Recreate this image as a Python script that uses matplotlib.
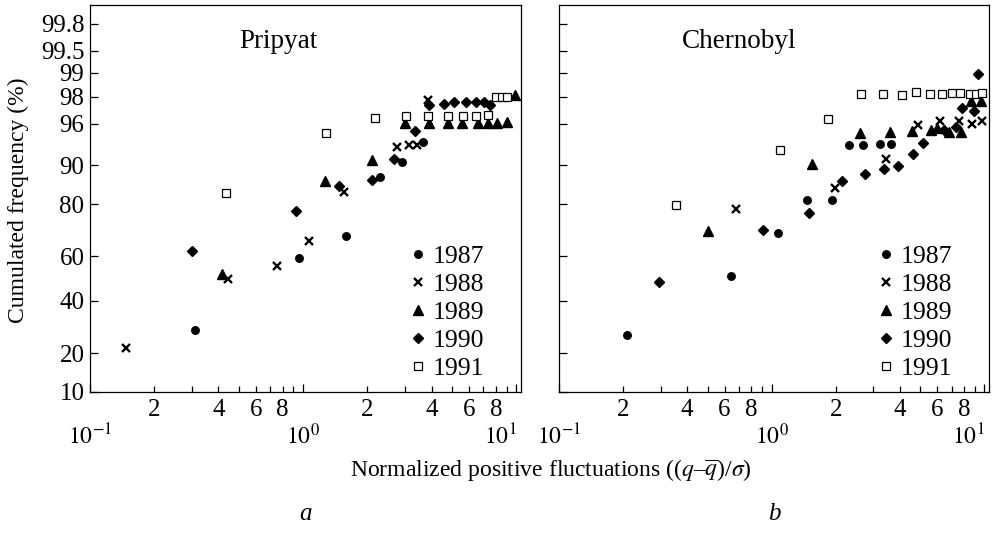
import math

import numpy as np
import matplotlib

matplotlib.use("Agg")
import matplotlib.pyplot as plt
from matplotlib.ticker import FixedLocator, FuncFormatter, LogLocator, NullLocator

# ---- data (x: normalized fluctuation, p: cumulated %) ----
YEARS = ["1987", "1988", "1989", "1990", "1991"]

PRIPYAT_1987_X = [0.31, 0.96, 1.58, 2.28, 2.91, 3.65]
PRIPYAT_1987_P = [27.9, 59.3, 68.3, 87.5, 90.6, 93.8]
PRIPYAT_1988_X = [0.148, 0.445, 0.75, 1.06, 1.56, 2.75, 3.14, 3.40, 3.86]
PRIPYAT_1988_P = [21.7, 49.6, 55.7, 66.4, 83.6, 93.1, 93.4, 93.4, 97.8]
PRIPYAT_1989_X = [0.416, 1.27, 2.11, 3.0, 3.9, 4.75, 5.55, 6.57, 7.32, 8.11, 9.04, 9.79]
PRIPYAT_1989_P = [51.9, 86.5, 90.9, 96.1, 96.1, 96.1, 96.1, 96.1, 96.1, 96.1, 96.15, 98.1]
PRIPYAT_1990_X = [0.30, 0.92, 1.47, 2.09, 2.67, 3.34, 3.90, 4.59, 5.12, 5.79, 6.45, 7.01, 7.54]
PRIPYAT_1990_P = [62.2, 77.8, 85.2, 86.7, 91.1, 95.2, 97.5, 97.6, 97.7, 97.7, 97.7, 97.7, 97.5]
PRIPYAT_1991_X = [0.432, 1.28, 2.18, 3.02, 3.83, 4.75, 5.6, 6.48, 7.32, 8.02, 8.57, 9.04]
PRIPYAT_1991_P = [83.2, 95.0, 96.55, 96.7, 96.7, 96.7, 96.7, 96.66, 96.8, 97.96, 97.96, 97.96]

CHERNOBYL_1987_X = [0.209, 0.644, 1.07, 1.47, 1.91, 2.31, 2.68, 3.21, 3.65]
CHERNOBYL_1987_P = [26.2, 51.1, 69.5, 81.4, 81.4, 93.5, 93.5, 93.6, 93.6]
CHERNOBYL_1988_X = [0.682, 1.99, 3.46, 4.89, 6.18, 7.60, 8.77, 9.78]
CHERNOBYL_1988_P = [78.4, 84.8, 91.1, 95.9, 96.2, 96.25, 96.0, 96.2]
CHERNOBYL_1989_X = [0.502, 1.55, 2.60, 3.60, 4.58, 5.59, 5.99, 6.83, 7.76, 8.62, 9.68]
CHERNOBYL_1989_P = [70.4, 90.2, 95.0, 95.1, 95.2, 95.3, 95.5, 95.1, 95.1, 97.76, 97.76]
CHERNOBYL_1990_X = [0.295, 0.907, 1.50, 2.15, 2.75, 3.37, 3.94, 4.62, 5.14, 6.45, 7.33, 7.87, 8.93, 9.36]
CHERNOBYL_1990_P = [48.4, 70.9, 77.2, 86.5, 88.2, 89.3, 89.8, 92.0, 93.7, 95.3, 95.7, 97.3, 97.1, 98.95]
CHERNOBYL_1991_X = [0.356, 1.09, 1.84, 2.62, 3.35, 4.08, 4.75, 5.53, 6.30, 7.02, 7.68, 8.53, 9.16, 9.77]
CHERNOBYL_1991_P = [79.7, 92.6, 96.4, 98.17, 98.17, 98.1, 98.25, 98.17, 98.17, 98.2, 98.2, 98.17, 98.17, 98.2]

Y_TICKS = [10, 20, 40, 60, 80, 90, 96, 98, 99, 99.5, 99.8]
Y_TICK_LABELS = ["10", "20", "40", "60", "80", "90", "96", "98", "99", "99.5", "99.8"]

plt.rcParams["font.family"] = ["Liberation Serif", "DejaVu Serif"]
plt.rcParams["mathtext.fontset"] = "stix"

# normal probability scale (percent <-> z)
_Z = np.linspace(-6, 6, 24001)
_P = 100 * np.array([0.5 * (1 + math.erf(z / math.sqrt(2))) for z in _Z])


def prob_forward(p):
    return np.interp(np.asarray(p, dtype=float), _P, _Z)


def prob_inverse(z):
    return np.interp(np.asarray(z, dtype=float), _Z, _P)


MARKERS = {
    "1987": dict(marker="o", ms=5.4, mfc="black", mec="black"),
    "1988": dict(marker="x", ms=5.6, mec="black", mew=1.7),
    "1989": dict(marker="^", ms=7.2, mfc="black", mec="black"),
    "1990": dict(marker="D", ms=5.4, mfc="black", mec="black"),
    "1991": dict(marker="s", ms=5.4, mfc="white", mec="black", mew=0.9),
}


def minor_label(v, pos):
    d = int(round(v / 10 ** math.floor(math.log10(v) + 1e-9)))
    return str(d) if d in (2, 4, 6, 8) else ""


def major_label(v, pos):
    return r"$10^{%d}$" % int(round(math.log10(v)))


def plot_panel(ax, series, title, title_x, show_ylabels):
    for year, (xs, ps) in zip(YEARS, series):
        ax.plot(xs, ps, linestyle="none", label=year, **MARKERS[year])

    ax.set_xscale("log")
    ax.set_yscale("function", functions=(prob_forward, prob_inverse))
    ax.set_xlim(0.1, 10.5)
    ax.set_ylim(10, 99.9)

    ax.yaxis.set_major_locator(FixedLocator(Y_TICKS))
    ax.yaxis.set_minor_locator(NullLocator())
    if show_ylabels:
        ax.set_yticklabels(Y_TICK_LABELS)
    else:
        ax.set_yticklabels([])

    ax.xaxis.set_major_locator(FixedLocator([0.1, 1, 10]))
    ax.xaxis.set_minor_locator(LogLocator(base=10, subs=np.arange(2, 10), numticks=20))
    ax.xaxis.set_major_formatter(FuncFormatter(major_label))
    ax.xaxis.set_minor_formatter(FuncFormatter(minor_label))

    ax.tick_params(axis="y", which="major", direction="in", length=5.5, width=0.9,
                   labelsize=18, pad=4)
    ax.tick_params(axis="x", which="major", direction="in", length=6, width=0.9,
                   labelsize=17, pad=23)
    ax.tick_params(axis="x", which="minor", direction="in", length=4, width=0.9,
                   labelsize=18, pad=5)
    ax.tick_params(top=False, right=False)
    for sp in ax.spines.values():
        sp.set_linewidth(0.9)

    # the 10^1 label ends at the right frame
    labels = ax.xaxis.get_majorticklabels()
    labels[-1].set_horizontalalignment("right")

    ax.text(title_x, 0.905, title, transform=ax.transAxes, ha="center", va="center",
            fontsize=19.5)

    ax.legend(loc="lower right", bbox_to_anchor=(0.915, 0.03), frameon=False,
              fontsize=18.5, handlelength=0.55, handletextpad=0.3, labelspacing=0.2,
              borderpad=0, borderaxespad=0)


def main():
    fig = plt.figure(figsize=(9.96, 5.33), dpi=100)
    ax_a = fig.add_axes([90 / 996, 1 - 392 / 533, 431 / 996, 387 / 533])
    ax_b = fig.add_axes([559 / 996, 1 - 392 / 533, 430 / 996, 387 / 533])

    pripyat = [
        (PRIPYAT_1987_X, PRIPYAT_1987_P),
        (PRIPYAT_1988_X, PRIPYAT_1988_P),
        (PRIPYAT_1989_X, PRIPYAT_1989_P),
        (PRIPYAT_1990_X, PRIPYAT_1990_P),
        (PRIPYAT_1991_X, PRIPYAT_1991_P),
    ]
    chernobyl = [
        (CHERNOBYL_1987_X, CHERNOBYL_1987_P),
        (CHERNOBYL_1988_X, CHERNOBYL_1988_P),
        (CHERNOBYL_1989_X, CHERNOBYL_1989_P),
        (CHERNOBYL_1990_X, CHERNOBYL_1990_P),
        (CHERNOBYL_1991_X, CHERNOBYL_1991_P),
    ]

    plot_panel(ax_a, pripyat, "Pripyat", 0.436, True)
    plot_panel(ax_b, chernobyl, "Chernobyl", 0.42, False)

    fig.text(18 / 996, 1 - 200 / 533, "Cumulated frequency (%)", rotation=90,
             ha="center", va="center", fontsize=17)
    fig.text(551 / 996, 1 - 470 / 533,
             r"Normalized positive fluctuations (($q$–$\overline{q}$)/$\sigma$)",
             ha="center", va="center", fontsize=17)
    fig.text(305 / 996, 1 - 514 / 533, "a", style="italic", ha="center",
             va="center", fontsize=18)
    fig.text(774 / 996, 1 - 514 / 533, "b", style="italic", ha="center",
             va="center", fontsize=18)

    fig.savefig("out.png", dpi=100)


if __name__ == "__main__":
    main()
